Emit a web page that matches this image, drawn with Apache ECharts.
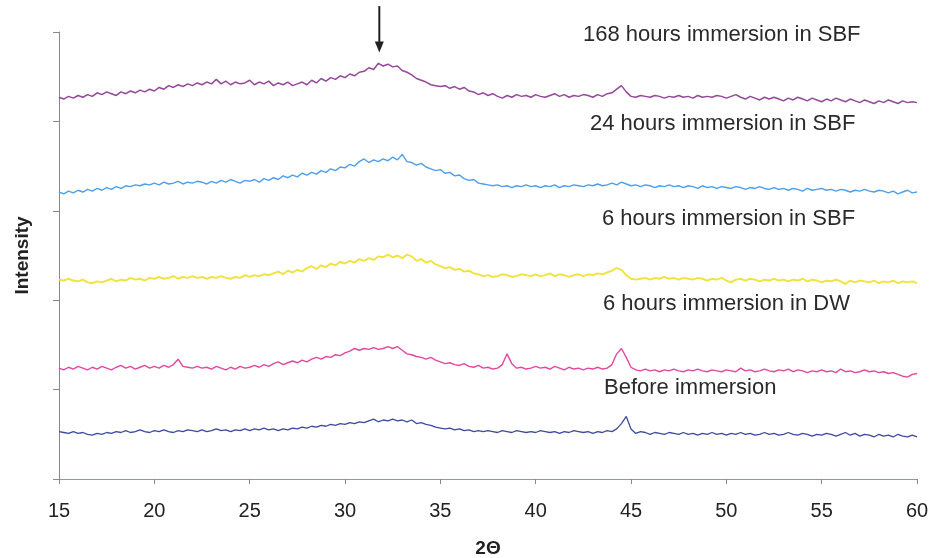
<!DOCTYPE html>
<html>
<head>
<meta charset="utf-8">
<script src="https://cdn.jsdelivr.net/npm/echarts@6/dist/echarts.min.js"></script>
<style>
  html, body { margin: 0; padding: 0; background: #fff; }
  #chart { width: 935px; height: 558px; }
</style>
</head>
<body>
<div id="chart"></div>
<script>
// 2θ sampling grid of the traces
const thetaStart = 15
const thetaStep = 0.25
const xTicks = [15, 20, 25, 30, 35, 40, 45, 50, 55, 60]

// intensities, offset traces (arbitrary units)
const sbf168 = [
  4.27,4.25,4.28,4.26,4.29,4.27,4.30,4.28,4.32,4.30,
  4.33,4.31,4.29,4.33,4.31,4.34,4.32,4.35,4.33,4.36,
  4.34,4.38,4.36,4.40,4.38,4.41,4.39,4.42,4.40,4.43,
  4.41,4.44,4.42,4.47,4.42,4.45,4.41,4.44,4.42,4.43,
  4.46,4.41,4.44,4.42,4.45,4.40,4.43,4.41,4.44,4.40,
  4.42,4.44,4.41,4.46,4.43,4.48,4.45,4.49,4.47,4.51,
  4.49,4.53,4.51,4.55,4.56,4.60,4.58,4.65,4.62,4.64,
  4.61,4.62,4.57,4.55,4.52,4.48,4.46,4.44,4.41,4.40,
  4.39,4.40,4.37,4.39,4.36,4.38,4.34,4.33,4.30,4.32,
  4.29,4.31,4.28,4.26,4.29,4.27,4.30,4.28,4.29,4.27,
  4.30,4.28,4.27,4.29,4.31,4.28,4.30,4.27,4.29,4.28,
  4.30,4.29,4.27,4.30,4.28,4.31,4.32,4.36,4.40,4.33,
  4.28,4.27,4.29,4.28,4.27,4.29,4.28,4.26,4.28,4.27,
  4.29,4.27,4.28,4.26,4.29,4.27,4.28,4.27,4.29,4.28,
  4.26,4.28,4.30,4.27,4.25,4.28,4.26,4.24,4.27,4.25,
  4.27,4.25,4.23,4.26,4.24,4.27,4.25,4.23,4.26,4.24,
  4.22,4.25,4.23,4.26,4.24,4.22,4.25,4.23,4.21,4.24,
  4.22,4.20,4.23,4.21,4.24,4.22,4.20,4.23,4.21,4.22,
  4.21
]
const sbf24 = [
  3.21,3.19,3.22,3.20,3.23,3.21,3.24,3.22,3.25,3.23,
  3.26,3.24,3.27,3.25,3.28,3.27,3.29,3.28,3.30,3.29,
  3.31,3.29,3.32,3.30,3.31,3.33,3.30,3.32,3.31,3.33,
  3.32,3.30,3.33,3.31,3.34,3.32,3.35,3.33,3.31,3.34,
  3.33,3.35,3.32,3.36,3.34,3.37,3.35,3.39,3.37,3.40,
  3.38,3.42,3.40,3.43,3.41,3.45,3.43,3.47,3.45,3.49,
  3.48,3.52,3.50,3.55,3.58,3.54,3.57,3.55,3.58,3.56,
  3.60,3.57,3.63,3.55,3.54,3.51,3.53,3.49,3.47,3.45,
  3.46,3.42,3.43,3.39,3.40,3.36,3.34,3.35,3.31,3.30,
  3.29,3.28,3.29,3.27,3.28,3.26,3.28,3.27,3.29,3.27,
  3.28,3.26,3.28,3.27,3.29,3.26,3.28,3.27,3.29,3.28,
  3.27,3.29,3.28,3.30,3.28,3.29,3.31,3.29,3.32,3.30,
  3.28,3.29,3.27,3.29,3.28,3.26,3.28,3.27,3.29,3.27,
  3.28,3.26,3.28,3.27,3.25,3.28,3.26,3.27,3.25,3.27,
  3.26,3.25,3.27,3.26,3.24,3.26,3.25,3.27,3.25,3.24,
  3.26,3.24,3.25,3.23,3.25,3.24,3.22,3.25,3.23,3.24,
  3.25,3.23,3.24,3.22,3.24,3.23,3.21,3.23,3.22,3.24,
  3.22,3.21,3.23,3.22,3.20,3.22,3.19,3.21,3.23,3.20,
  3.21
]
const sbf6 = [
  2.23,2.22,2.24,2.22,2.21,2.23,2.20,2.19,2.21,2.20,
  2.22,2.24,2.21,2.23,2.22,2.25,2.23,2.24,2.22,2.25,
  2.24,2.26,2.24,2.25,2.27,2.24,2.26,2.25,2.27,2.25,
  2.26,2.24,2.26,2.25,2.27,2.25,2.24,2.26,2.25,2.28,
  2.26,2.28,2.27,2.29,2.28,2.30,2.32,2.29,2.33,2.31,
  2.34,2.32,2.36,2.38,2.35,2.39,2.37,2.41,2.39,2.43,
  2.41,2.44,2.42,2.46,2.44,2.47,2.45,2.49,2.48,2.51,
  2.48,2.50,2.47,2.51,2.49,2.44,2.46,2.42,2.44,2.40,
  2.38,2.36,2.37,2.34,2.35,2.32,2.33,2.30,2.29,2.27,
  2.28,2.26,2.27,2.29,2.28,2.26,2.27,2.29,2.28,2.27,
  2.29,2.27,2.28,2.30,2.27,2.29,2.28,2.26,2.28,2.29,
  2.27,2.29,2.28,2.30,2.29,2.31,2.33,2.36,2.34,2.28,
  2.24,2.23,2.24,2.25,2.23,2.25,2.24,2.26,2.24,2.25,
  2.23,2.25,2.24,2.23,2.25,2.24,2.22,2.24,2.23,2.25,
  2.22,2.20,2.23,2.24,2.22,2.24,2.23,2.21,2.23,2.22,
  2.24,2.22,2.23,2.21,2.23,2.22,2.24,2.21,2.23,2.22,
  2.20,2.22,2.21,2.23,2.21,2.18,2.22,2.20,2.22,2.21,
  2.20,2.22,2.19,2.21,2.20,2.22,2.19,2.21,2.20,2.21,
  2.19
]
const dw6 = [
  1.24,1.22,1.25,1.23,1.26,1.24,1.22,1.25,1.23,1.26,
  1.24,1.22,1.25,1.27,1.24,1.26,1.23,1.25,1.27,1.24,
  1.26,1.24,1.27,1.25,1.28,1.34,1.26,1.25,1.24,1.26,
  1.24,1.25,1.23,1.26,1.24,1.22,1.25,1.23,1.26,1.24,
  1.25,1.27,1.25,1.28,1.26,1.29,1.31,1.28,1.30,1.32,
  1.30,1.33,1.31,1.34,1.36,1.34,1.37,1.36,1.39,1.38,
  1.41,1.43,1.46,1.44,1.46,1.45,1.47,1.45,1.46,1.48,
  1.46,1.48,1.44,1.40,1.39,1.37,1.36,1.34,1.36,1.33,
  1.31,1.29,1.30,1.28,1.27,1.29,1.26,1.25,1.27,1.24,
  1.25,1.23,1.24,1.28,1.40,1.29,1.24,1.25,1.23,1.24,
  1.26,1.24,1.25,1.23,1.26,1.24,1.22,1.25,1.23,1.24,
  1.22,1.24,1.23,1.25,1.23,1.24,1.28,1.40,1.46,1.36,
  1.25,1.22,1.21,1.23,1.21,1.22,1.20,1.22,1.21,1.23,
  1.21,1.20,1.22,1.21,1.23,1.21,1.20,1.22,1.21,1.20,
  1.22,1.21,1.20,1.24,1.21,1.22,1.20,1.21,1.23,1.21,
  1.20,1.22,1.21,1.23,1.20,1.22,1.21,1.19,1.21,1.20,
  1.22,1.20,1.21,1.19,1.23,1.20,1.21,1.19,1.20,1.22,
  1.20,1.21,1.19,1.20,1.18,1.19,1.17,1.15,1.14,1.17,
  1.18
]
const before = [
  0.53,0.52,0.51,0.53,0.51,0.52,0.50,0.49,0.51,0.50,
  0.52,0.51,0.53,0.52,0.54,0.52,0.53,0.55,0.53,0.52,
  0.54,0.53,0.55,0.53,0.52,0.54,0.53,0.55,0.54,0.53,
  0.55,0.53,0.54,0.56,0.54,0.55,0.53,0.55,0.54,0.56,
  0.54,0.56,0.55,0.57,0.55,0.56,0.54,0.56,0.55,0.57,
  0.56,0.58,0.57,0.59,0.58,0.60,0.59,0.61,0.60,0.62,
  0.61,0.63,0.62,0.64,0.63,0.65,0.67,0.64,0.66,0.65,
  0.67,0.65,0.66,0.64,0.66,0.62,0.63,0.61,0.60,0.58,
  0.57,0.56,0.57,0.55,0.56,0.54,0.55,0.53,0.54,0.53,
  0.54,0.53,0.52,0.54,0.53,0.52,0.54,0.53,0.52,0.53,
  0.52,0.54,0.53,0.52,0.53,0.51,0.53,0.52,0.54,0.53,
  0.52,0.53,0.51,0.53,0.52,0.54,0.53,0.56,0.62,0.70,
  0.56,0.51,0.53,0.52,0.50,0.52,0.51,0.50,0.52,0.51,
  0.50,0.52,0.50,0.51,0.49,0.51,0.50,0.52,0.50,0.51,
  0.49,0.51,0.50,0.52,0.50,0.51,0.49,0.50,0.52,0.50,
  0.51,0.49,0.50,0.52,0.50,0.49,0.51,0.50,0.48,0.50,
  0.49,0.51,0.50,0.48,0.50,0.52,0.49,0.51,0.48,0.50,
  0.49,0.47,0.50,0.48,0.49,0.47,0.50,0.48,0.47,0.49,
  0.47
]

const traceNames = ['168 hours immersion in SBF', '24 hours immersion in SBF',
  '6 hours immersion in SBF', '6 hours immersion in DW', 'Before immersion']
const traceColors = ['#94499A', '#4E9FEC', '#F1E23C', '#E2489F', '#3D4B9D']
const traceWidths = [1.5, 1.4, 1.9, 1.4, 1.3]
const traces = [sbf168, sbf24, sbf6, dw6, before]

// arrow marks the broad peak of the 168 h pattern
const arrowAt = 31.8
const arrowFrom = 5.29
const arrowTo = 4.77

function toPoints(vals) {
  return vals.map((v, i) => [thetaStart + thetaStep * i, v])
}

const chart = echarts.init(document.getElementById('chart'))

const labelFont = '22px "Liberation Sans", Arial, sans-serif'
const labelPos = [[583, 36], [590, 125], [602, 220], [603, 305], [604, 389]]
const labelGraphics = traceNames.map((t, k) => ({
  type: 'text',
  left: labelPos[k][0],
  top: labelPos[k][1] - 12,
  style: { text: t, font: labelFont, fill: '#2a2a2a' }
}))

chart.setOption({
  backgroundColor: '#ffffff',
  animation: false,
  grid: { left: 59, right: 18, top: 32, bottom: 79, outerBoundsMode: 'none' },
  xAxis: {
    type: 'value',
    min: 15,
    max: 60,
    interval: 5,
    name: '2Θ',
    nameLocation: 'middle',
    nameGap: 60,
    nameTextStyle: { fontSize: 19, fontWeight: 'bold', color: '#222', fontFamily: 'Liberation Sans' },
    axisLine: { lineStyle: { color: '#8b96bd', width: 1 } },
    axisTick: { length: 5, lineStyle: { color: '#888' } },
    axisLabel: {
      margin: 22,
      fontSize: 20,
      color: '#222',
      fontFamily: 'Liberation Sans',
      customValues: xTicks
    },
    splitLine: { show: false }
  },
  yAxis: {
    type: 'value',
    min: 0,
    max: 5,
    interval: 1,
    name: 'Intensity',
    nameLocation: 'middle',
    nameRotate: 90,
    nameGap: 27,
    nameTextStyle: { fontSize: 19, fontWeight: 'bold', color: '#222', fontFamily: 'Liberation Sans' },
    axisLine: { show: true, lineStyle: { color: '#888', width: 1 } },
    axisTick: { show: true, length: 6, lineStyle: { color: '#888' } },
    axisLabel: { show: false },
    splitLine: { show: false }
  },
  graphic: labelGraphics,
  series: traces.map((vals, k) => ({
    name: traceNames[k],
    type: 'line',
    data: toPoints(vals),
    showSymbol: false,
    symbol: 'none',
    lineStyle: { color: traceColors[k], width: traceWidths[k] },
    itemStyle: { color: traceColors[k] }
  }))
})

// arrow placed through the axes
const p0 = chart.convertToPixel({ gridIndex: 0 }, [arrowAt, arrowFrom])
const p1 = chart.convertToPixel({ gridIndex: 0 }, [arrowAt, arrowTo])
chart.setOption({
  graphic: labelGraphics.concat([
    {
      type: 'line',
      shape: { x1: p0[0], y1: p0[1], x2: p1[0], y2: p1[1] - 8 },
      style: { stroke: '#222', lineWidth: 2 }
    },
    {
      type: 'polygon',
      shape: { points: [[p1[0] - 4.5, p1[1] - 11], [p1[0] + 4.5, p1[1] - 11], [p1[0], p1[1]]] },
      style: { fill: '#222' }
    }
  ])
})
</script>
</body>
</html>
